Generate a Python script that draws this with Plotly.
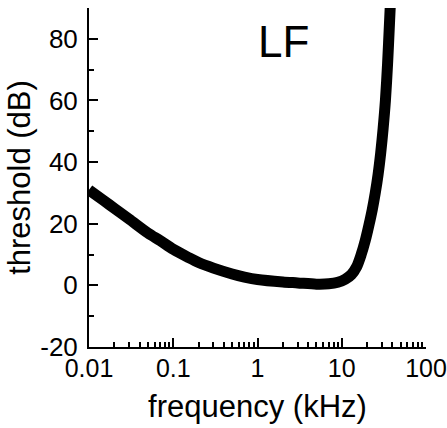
import plotly.graph_objects as go

freq_khz = [0.01, 0.015, 0.02, 0.03, 0.05, 0.07, 0.1, 0.15, 0.2, 0.3, 0.5, 0.7, 1, 2, 3, 5, 7, 9,
            11, 13, 15, 17, 19, 21, 23, 25, 27, 29, 31, 33, 35, 37, 38]
threshold_db = [31, 27.5, 25, 21.5, 17, 14.5, 11.7, 9.1, 7.4, 5.6, 3.7, 2.7, 1.9, 1.1, 0.8, 0.4, 0.5, 1.0,
                2, 3.5, 6, 10, 14.5, 19.5, 24.5, 30, 36, 43, 51, 60, 72, 86, 93]

x_tickvals = [0.01, 0.1, 1, 10, 100]
x_ticktext = ["0.01", "0.1", "1", "10", "100"]
x_minor = [m * d for d in [0.01, 0.1, 1, 10] for m in range(2, 10)]
y_tickvals = [-20, 0, 20, 40, 60, 80]
y_ticktext = ["-20", "0", "20", "40", "60", "80"]
y_minor = [-10, 10, 30, 50, 70, 90]

FONT = "Liberation Sans, Arial, sans-serif"

fig = go.Figure()
fig.add_trace(go.Scatter(x=freq_khz, y=threshold_db, mode="lines",
                         line=dict(color="black", width=11, shape="spline", smoothing=0.8),
                         showlegend=False, cliponaxis=True))

fig.update_layout(
    width=447, height=428,
    margin=dict(l=89, r=21, t=8, b=81),
    paper_bgcolor="white", plot_bgcolor="white",
    font=dict(family=FONT, color="black", size=27),
    xaxis=dict(type="log", range=[-2, 2], showline=True, linecolor="black", linewidth=2,
               ticks="inside", ticklen=9, tickwidth=2, tickcolor="black",
               tickvals=x_tickvals, ticktext=x_ticktext, showgrid=False, zeroline=False,
               tickfont=dict(size=25), ticklabelstandoff=-2, automargin=False,
               ticklabeloverflow="allow",
               minor=dict(tickvals=x_minor, ticks="inside", ticklen=5, tickwidth=2, tickcolor="black", showgrid=False),
               title=dict(text="frequency (kHz)", font=dict(size=31), standoff=14)),
    yaxis=dict(range=[-20, 90], showline=True, linecolor="black", linewidth=2,
               ticks="inside", ticklen=9, tickwidth=2, tickcolor="black",
               tickvals=y_tickvals, ticktext=y_ticktext, showgrid=False, zeroline=False,
               tickfont=dict(size=26), ticklabelstandoff=4, automargin=False,
               ticklabeloverflow="allow",
               minor=dict(tickvals=y_minor, ticks="inside", ticklen=5, tickwidth=2, tickcolor="black", showgrid=False),
               title=dict(text="threshold (dB)", font=dict(size=31), standoff=0)),
    annotations=[dict(text="LF", xref="paper", yref="paper", x=0.576, y=0.90,
                      xanchor="center", yanchor="middle", showarrow=False,
                      font=dict(size=44, family=FONT, color="black"))],
)

fig.write_html("out.html")
